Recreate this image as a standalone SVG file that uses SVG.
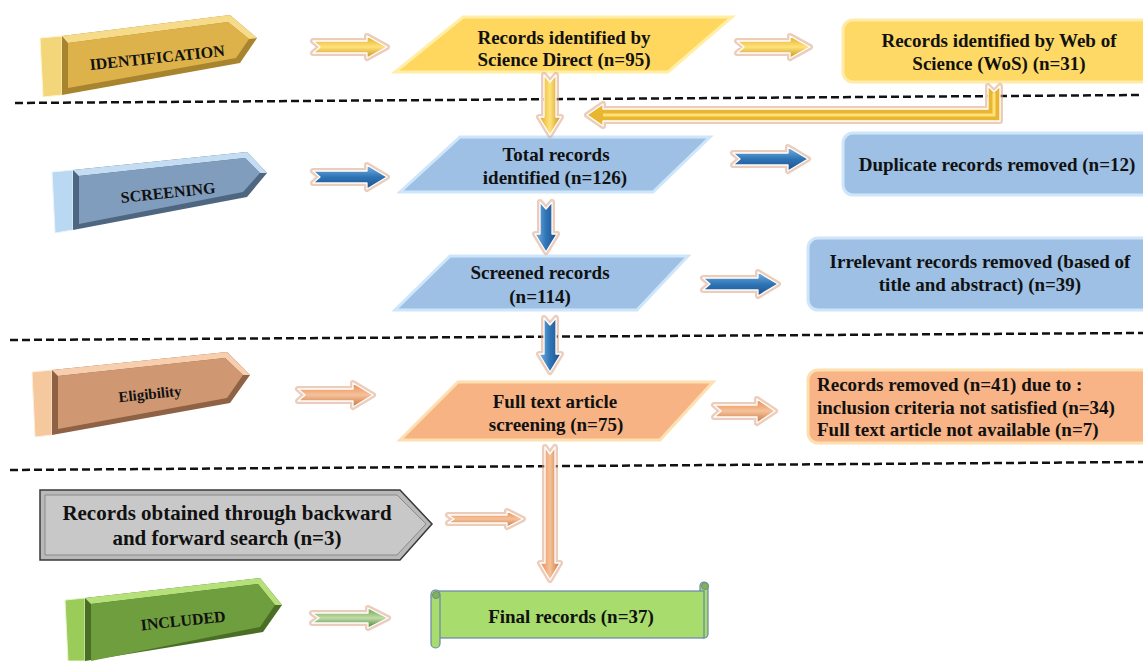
<svg xmlns="http://www.w3.org/2000/svg" width="1143" height="661" viewBox="0 0 1143 661">
<style>
text{font-family:"Liberation Serif","Times New Roman",serif;font-weight:bold;fill:#111}
.t19{font-size:19px}
.mid{text-anchor:middle}
.stg{font-size:16px;text-anchor:middle}
.dash{stroke:#111;stroke-width:2.5;stroke-dasharray:8 4;fill:none}
.gl{fill:none;stroke:#DDA283;stroke-width:6;stroke-linejoin:round;opacity:.55}
.ar{stroke:#fff;stroke-width:1.3;stroke-linejoin:round}
.ay{fill:url(#gy)}.ab{fill:url(#gb)}.ao{fill:url(#go)}.ag{fill:url(#gg)}
.vy{fill:url(#vy)}.vb{fill:url(#vb)}.vo{fill:url(#vo)}
.pY{fill:#FFD75E;stroke:#FFEFA6;stroke-width:3}
.pB{fill:#9DC0E4;stroke:#CFE6FA;stroke-width:3}
.pO{fill:#F7B384;stroke:#FCE0B0;stroke-width:3}
</style>
<defs>
<linearGradient id="gy" x1="0" y1="0" x2="0" y2="1"><stop offset="0" stop-color="#E2AC24"/><stop offset=".5" stop-color="#FFE27A"/><stop offset="1" stop-color="#C99420"/></linearGradient>
<linearGradient id="gb" x1="0" y1="0" x2="0" y2="1"><stop offset="0" stop-color="#7DB2E2"/><stop offset=".5" stop-color="#2E75B6"/><stop offset="1" stop-color="#1F4E8C"/></linearGradient>
<linearGradient id="go" x1="0" y1="0" x2="0" y2="1"><stop offset="0" stop-color="#E8894E"/><stop offset=".5" stop-color="#F6C29A"/><stop offset="1" stop-color="#C9733D"/></linearGradient>
<linearGradient id="gg" x1="0" y1="0" x2="0" y2="1"><stop offset="0" stop-color="#6E9F4C"/><stop offset=".5" stop-color="#BFDDA8"/><stop offset="1" stop-color="#4F7F30"/></linearGradient>
<linearGradient id="vy" x1="0" y1="0" x2="1" y2="0"><stop offset="0" stop-color="#E2AC24"/><stop offset=".5" stop-color="#FFE27A"/><stop offset="1" stop-color="#C99420"/></linearGradient>
<linearGradient id="vb" x1="0" y1="0" x2="1" y2="0"><stop offset="0" stop-color="#7DB2E2"/><stop offset=".5" stop-color="#2E75B6"/><stop offset="1" stop-color="#1F4E8C"/></linearGradient>
<linearGradient id="vo" x1="0" y1="0" x2="1" y2="0"><stop offset="0" stop-color="#E8894E"/><stop offset=".5" stop-color="#F6C29A"/><stop offset="1" stop-color="#C9733D"/></linearGradient>
</defs>
<rect width="1143" height="661" fill="#fff"/>

<!-- dashed separators -->
<g id="separators">
<line class="dash" x1="15" y1="103" x2="1143" y2="95"/>
<line class="dash" x1="10" y1="340" x2="1143" y2="333"/>
<line class="dash" x1="10" y1="470" x2="1143" y2="462"/>
</g>

<!-- stage labels -->
<g id="stage-identification">
<polygon points="40,38 62,36 62,95 43,97" fill="#F4D67A" stroke="#FFF6D0" stroke-width="1"/>
<polygon points="62,36 230,15 257,38 240,63 62,95" fill="#A8842E"/>
<polygon points="62,36 230,15 257,38 249,39 228,22 68,43" fill="#F6DC8A"/>
<polygon points="68,43 228,22 249,39 236,58 68,88" fill="#DDB24A"/>
<text class="stg" transform="translate(157,57) rotate(-6)" y="6">IDENTIFICATION</text>
</g>
<g id="stage-screening">
<polygon points="52,172 73,170 73,230 55,233" fill="#BBD8F2" stroke="#EAF4FF" stroke-width="1"/>
<polygon points="73,170 247,152 267,173 247,197 73,230" fill="#4F6680"/>
<polygon points="73,170 247,152 267,173 260,173 245,158 79,176" fill="#C5DDF2"/>
<polygon points="79,176 245,158 260,173 243,192 79,224" fill="#819DBD"/>
<text class="stg" transform="translate(168,192) rotate(-6)" y="6">SCREENING</text>
</g>
<g id="stage-eligibility">
<polygon points="32,372 52,370 52,435 35,437" fill="#F5C89E" stroke="#FFEEDD" stroke-width="1"/>
<polygon points="52,370 227,352 250,375 230,403 52,435" fill="#8F6145"/>
<polygon points="52,370 227,352 250,375 243,375 225,358 58,376" fill="#F7CFAE"/>
<polygon points="58,376 225,358 243,375 227,398 58,429" fill="#CF9873"/>
<text class="stg" style="font-size:15px" transform="translate(150,394) rotate(-6)" y="5">Eligibility</text>
</g>
<g id="stage-included">
<polygon points="65,600 85,598 85,661 68,661" fill="#9BCB58" stroke="#E6F7CC" stroke-width="1"/>
<polygon points="85,598 260,578 282,605 263,632 85,661" fill="#4A6E26"/>
<polygon points="85,598 260,578 282,605 275,605 258,584 91,604" fill="#B5E07A"/>
<polygon points="91,604 258,584 275,605 260,627 91,661" fill="#6E9E3D"/>
<text class="stg" transform="translate(183,620) rotate(-6)" y="6">INCLUDED</text>
</g>

<!-- nodes -->
<g id="node-sciencedirect">
<polygon class="pY" points="463,17 732,17 668,72 395,72"/>
<text class="t19 mid" x="564" y="44">Records identified by</text>
<text class="t19 mid" x="564" y="66">Science Direct (n=95)</text>
</g>
<g id="node-wos">
<rect x="843" y="20" width="320" height="62" rx="10" fill="#FFD966" stroke="#FFEBA8" stroke-width="3"/>
<text class="t19 mid" x="999" y="47">Records identified by Web of</text>
<text class="t19 mid" x="999" y="70">Science (WoS) (n=31)</text>
</g>
<g id="node-total">
<polygon class="pB" points="460,137 710,137 653,192 400,192"/>
<text class="t19 mid" x="556" y="161">Total records</text>
<text class="t19 mid" x="555" y="184">identified (n=126)</text>
</g>
<g id="node-duplicate">
<rect x="843" y="133" width="320" height="62" rx="10" fill="#9DC0E4" stroke="#CFE6FA" stroke-width="3"/>
<text class="t19 mid" x="997" y="171">Duplicate records removed (n=12)</text>
</g>
<g id="node-screened">
<polygon class="pB" points="450,256 688,256 637,310 395,310"/>
<text class="t19 mid" x="540" y="279">Screened records</text>
<text class="t19 mid" x="540" y="303">(n=114)</text>
</g>
<g id="node-irrelevant">
<rect x="808" y="238" width="355" height="72" rx="10" fill="#9DC0E4" stroke="#CFE6FA" stroke-width="3"/>
<text class="t19 mid" x="980" y="268">Irrelevant records removed (based of</text>
<text class="t19 mid" x="980" y="291">title and abstract) (n=39)</text>
</g>
<g id="node-fulltext">
<polygon class="pO" points="458,382 713,382 660,440 400,440"/>
<text class="t19 mid" x="555" y="408">Full text article</text>
<text class="t19 mid" x="556" y="431">screening (n=75)</text>
</g>
<g id="node-removed">
<rect x="808" y="370" width="355" height="73" rx="10" fill="#F8B486" stroke="#FCE0B0" stroke-width="3"/>
<text class="t19" x="817" y="391">Records removed (n=41) due to :</text>
<text class="t19" x="817" y="414">inclusion criteria not satisfied (n=34)</text>
<text class="t19" x="817" y="436">Full text article not available (n=7)</text>
</g>
<g id="node-backward">
<polygon points="40,490 400,490 432,524 400,560 40,560" fill="#B9B9B9" stroke="#3A3A3A" stroke-width="1.5"/>
<polygon points="45,495 397,495 426,524 397,555 45,555" fill="#C8C8C8" stroke="#8A8A8A" stroke-width="1"/>
<text class="mid" style="font-size:21px" x="227" y="520">Records obtained through backward</text>
<text class="mid" style="font-size:21px" x="227" y="545">and forward search (n=3)</text>
</g>
<g id="node-final">
<rect x="700" y="582" width="8" height="56" rx="4" fill="#A8DC6C" stroke="#6A86A8" stroke-width="1.2"/>
<rect x="438" y="591" width="266" height="47" fill="#A8DC6C" stroke="#6A86A8" stroke-width="1.2"/>
<circle cx="705" cy="586" r="3.5" fill="#7FB84A" stroke="#6A86A8" stroke-width="1"/>
<rect x="431" y="590" width="9" height="58" rx="4.5" fill="#A8DC6C" stroke="#6A86A8" stroke-width="1.2"/>
<circle cx="436" cy="595" r="3.5" fill="#7FB84A" stroke="#6A86A8" stroke-width="1"/>
<text class="t19 mid" x="571" y="623">Final records (n=37)</text>
</g>

<!-- connectors -->
<g id="connectors">
<path class="gl" d="M313,41 H367 V36 L387,47 L367,58 V53 H313 L320,47 Z"/>
<path class="ar ay" d="M313,41 H367 V36 L387,47 L367,58 V53 H313 L320,47 Z"/>
<path class="gl" d="M737,41 H790 V36 L810,47 L790,58 V53 H737 L744,47 Z"/>
<path class="ar ay" d="M737,41 H790 V36 L810,47 L790,58 V53 H737 L744,47 Z"/>
<path class="gl" d="M313,171 H367 V165 L387,177 L367,189 V183 H313 L320,177 Z"/>
<path class="ar ab" d="M313,171 H367 V165 L387,177 L367,189 V183 H313 L320,177 Z"/>
<path class="gl" d="M733,153 H788 V147 L808,159 L788,171 V165 H733 L740,159 Z"/>
<path class="ar ab" d="M733,153 H788 V147 L808,159 L788,171 V165 H733 L740,159 Z"/>
<path class="gl" d="M703,278 H758 V272 L778,284 L758,296 V290 H703 L710,284 Z"/>
<path class="ar ab" d="M703,278 H758 V272 L778,284 L758,296 V290 H703 L710,284 Z"/>
<path class="gl" d="M298,389 H353 V383 L373,395 L353,407 V401 H298 L305,395 Z"/>
<path class="ar ao" d="M298,389 H353 V383 L373,395 L353,407 V401 H298 L305,395 Z"/>
<path class="gl" d="M714,405 H757 V399 L775,411 L757,423 V417 H714 L721,411 Z"/>
<path class="ar ao" d="M714,405 H757 V399 L775,411 L757,423 V417 H714 L721,411 Z"/>
<path class="gl" d="M448,515 H507 V511 L523,519 L507,527 V523 H448 L454,519 Z"/>
<path class="ar ao" d="M448,515 H507 V511 L523,519 L507,527 V523 H448 L454,519 Z"/>
<path class="gl" d="M312,613 H368 V608 L388,618 L368,628 V623 H312 L319,618 Z"/>
<path class="ar ag" d="M312,613 H368 V608 L388,618 L368,628 V623 H312 L319,618 Z"/>
<path class="gl" d="M544,75 L550,82 L556,75 V117 H561 L550,135 L539,117 H544 Z"/>
<path class="ar vy" d="M544,75 L550,82 L556,75 V117 H561 L550,135 L539,117 H544 Z"/>
<path class="gl" d="M540,202 L546,209 L552,202 V234 H557 L546,252 L535,234 H540 Z"/>
<path class="ar vb" d="M540,202 L546,209 L552,202 V234 H557 L546,252 L535,234 H540 Z"/>
<path class="gl" d="M544,318 L550,325 L556,318 V354 H561 L550,372 L539,354 H544 Z"/>
<path class="ar vb" d="M544,318 L550,325 L556,318 V354 H561 L550,372 L539,354 H544 Z"/>
<path class="gl" d="M545,447 L550,454 L555,447 V563 H560 L550,580 L540,563 H545 Z"/>
<path class="ar vo" d="M545,447 L550,454 L555,447 V563 H560 L550,580 L540,563 H545 Z"/>
<path class="gl" d="M988,86 L994,92 L1000,86 V121 H603 V126 L587,115 L603,104 V109 H988 Z"/>
<path class="ar" fill="#E9B630" d="M988,86 L994,92 L1000,86 V121 H603 V126 L587,115 L603,104 V109 H988 Z"/>
<path d="M603,115 H994 V93" fill="none" stroke="#FFE27A" stroke-width="3"/>
</g>
</svg>
